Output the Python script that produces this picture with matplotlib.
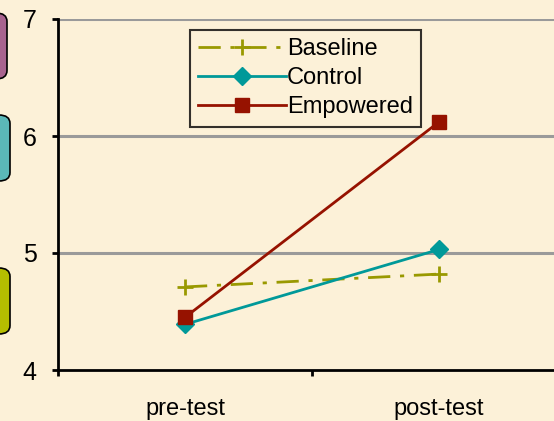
import matplotlib.pyplot as plt
from matplotlib.patches import FancyBboxPatch

phases = ["pre-test", "post-test"]
baseline = [4.71, 4.82]
control = [4.39, 5.03]
empowered = [4.45, 6.12]
y_ticks = [4, 5, 6, 7]

bg = "#FCF1D8"
plt.rcParams["font.family"] = ["Liberation Sans", "DejaVu Sans"]

fig = plt.figure(figsize=(5.54, 4.21), dpi=100, facecolor=bg)
# plot area runs past the right edge of the picture
ax = fig.add_axes([58 / 554, 51 / 421, 508 / 554, 351 / 421])
ax.set_facecolor(bg)

# decorative tabs on the left edge
for y0, w, col in [(13, 19, "#A8638F"), (115, 22, "#5BB8B8"), (268, 22, "#B5BD00")]:
    fig.patches.append(FancyBboxPatch(
        (-12 / 554, 1 - (y0 + 66) / 421), w / 554, 66 / 421,
        boxstyle="round,pad=0,rounding_size=0.02", transform=fig.transFigure,
        facecolor=col, edgecolor="black", linewidth=1.2, zorder=0))

xs = [0.5, 1.5]
for y in [5, 6, 7]:
    ax.axhline(y, color="#9A9A9A", linewidth=2.2, zorder=1)

ax.plot(xs, baseline, color="#999900", linewidth=2, linestyle=(0, (8, 3.5, 1.5, 3.5)),
        marker="+", markersize=11, markeredgewidth=2, label="Baseline", zorder=3)
ax.plot(xs, control, color="#009999", linewidth=2, marker="D", markersize=9,
        label="Control", zorder=3)
ax.plot(xs, empowered, color="#961200", linewidth=2, marker="s", markersize=10.5,
        label="Empowered", zorder=4)

ax.set_xlim(0, 2)
ax.set_ylim(4, 7)
ax.set_yticks(y_ticks)
ax.set_xticks([0, 1, 2])
ax.set_xticklabels([])
ax.set_xticks(xs, minor=True)
ax.set_xticklabels(phases, minor=True)
ax.tick_params(axis="x", which="minor", length=0, pad=20, labelsize=17)
ax.tick_params(axis="x", which="major", length=4.5, width=2, direction="out")
ax.tick_params(axis="y", length=4.5, width=2, pad=11, labelsize=18)
for side in ["top", "right"]:
    ax.spines[side].set_visible(False)
for side in ["left", "bottom"]:
    ax.spines[side].set_linewidth(2)

leg = ax.legend(loc="upper left", bbox_to_anchor=(132 / 508, 1 - 11 / 351),
                fontsize=17, frameon=True, fancybox=False, handlelength=3.7,
                handletextpad=0.05, labelspacing=0.3, borderpad=0.35,
                borderaxespad=0)
leg.get_frame().set_edgecolor("black")
leg.get_frame().set_linewidth(1.5)
leg.get_frame().set_facecolor(bg)

fig.savefig("out.png", dpi=100, facecolor=bg)
